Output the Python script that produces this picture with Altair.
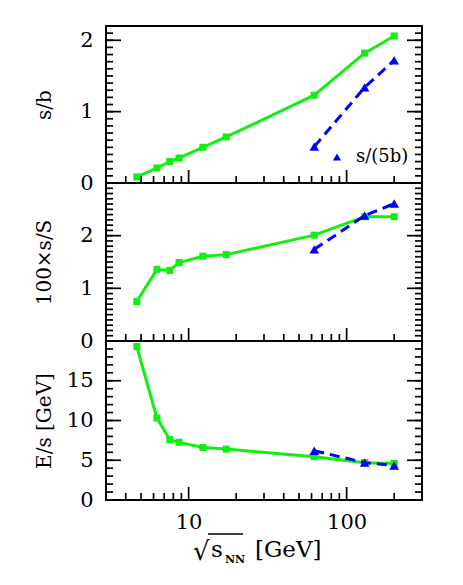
import altair as alt
import pandas as pd

# ---------------- data ----------------
energy = [4.7, 6.3, 7.6, 8.7, 12.3, 17.3, 62.4, 130, 200]
s_over_b = [0.085, 0.21, 0.30, 0.35, 0.50, 0.645, 1.23, 1.82, 2.06]
s_over_S = [0.75, 1.36, 1.34, 1.49, 1.61, 1.64, 2.01, 2.36, 2.36]
E_over_s = [19.3, 10.3, 7.6, 7.25, 6.6, 6.4, 5.45, 4.7, 4.6]

rhic_energy = [62.4, 130, 200]
rhic_s_over_5b = [0.51, 1.34, 1.72]
rhic_s_over_S = [1.74, 2.38, 2.61]
rhic_E_over_s = [6.2, 4.7, 4.35]

x_labels = [10, 100]
x_major = [10, 100]
x_minor = [4, 5, 6, 7, 8, 9, 20, 30, 40, 50, 60, 70, 80, 90, 200, 300]

top_labels = [0, 1, 2]
top_major = [0, 1, 2]
top_minor = [i / 10 for i in range(23)]

mid_labels = [0, 1, 2]
mid_major = [0, 1, 2, 3]
mid_minor = [i / 10 for i in range(31)]

bot_labels = [0, 5, 10, 15]
bot_major = [0, 5, 10, 15, 20]
bot_minor = list(range(21))

legend_label = "s/(5b)"

FONT = "DejaVu Serif"
GREEN = "#10f010"
BLUE = "#0000ff"
W = 316


def panel(yvals, rhic_vals, ymax, y_labels, y_major, y_minor, ytitle, H,
          bottom=False, legend=False):
    xs = alt.Scale(type="log", domain=[3, 300], nice=False)
    ys = alt.Scale(domain=[0, ymax], nice=False, zero=False)
    main = pd.DataFrame({"x": energy, "y": yvals})
    rhic = pd.DataFrame({"x": rhic_energy, "y": rhic_vals,
                         "series": [legend_label] * len(rhic_energy)})

    if bottom:
        xaxis = alt.Axis(values=x_labels, format="d", ticks=False, domain=False,
                         grid=False, labelFont=FONT, labelFontSize=21,
                         labelColor="black", labelPadding=11, labelFlush=False,
                         labelOverlap=False, title=None)
    else:
        xaxis = None
    yaxis = alt.Axis(values=y_labels, ticks=False, domain=False, grid=False,
                     labelFont=FONT, labelFontSize=21, labelColor="black",
                     labelPadding=13, labelOverlap=False, labelFlush=False,
                     title=ytitle, titleFont=FONT, titleFontSize=20,
                     titleFontWeight="normal", titleColor="black",
                     titleX=-52, titleY=H / 2)

    def X(field="x"):
        return alt.X(f"{field}:Q", scale=xs, axis=xaxis, title=None)

    def Y(field="y"):
        return alt.Y(f"{field}:Q", scale=ys, axis=yaxis, title=ytitle)

    line_main = alt.Chart(main).mark_line(color=GREEN, strokeWidth=3).encode(
        x=X(), y=Y())
    pts_main = alt.Chart(main).mark_point(
        shape="square", filled=True, size=50, color=GREEN, opacity=1
    ).encode(x=X(), y=Y())
    line_rhic = alt.Chart(rhic).mark_line(
        color=BLUE, strokeWidth=3, strokeDash=[10, 6]
    ).encode(x=X(), y=Y())
    if legend:
        col = alt.Color(
            "series:N",
            scale=alt.Scale(domain=[legend_label], range=[BLUE]),
            legend=alt.Legend(orient="none", legendX=222, legendY=122,
                              title=None, symbolType="triangle-up",
                              symbolSize=70, symbolStrokeWidth=0,
                              labelFont=FONT, labelFontSize=18,
                              labelColor="black", labelOffset=10, padding=0),
        )
    else:
        col = alt.value(BLUE)
    pts_rhic = alt.Chart(rhic).mark_point(
        shape="triangle-up", filled=True, size=95, opacity=1
    ).encode(x=X(), y=Y(), color=col)

    def yticks(vals, length):
        df = pd.DataFrame({"v": vals})
        left = alt.Chart(df).mark_rule(color="black", strokeWidth=1.7).encode(
            y=Y("v"), x=alt.value(0), x2=alt.value(length))
        right = alt.Chart(df).mark_rule(color="black", strokeWidth=1.7).encode(
            y=Y("v"), x=alt.value(W), x2=alt.value(W - length))
        return [left, right]

    def xticks(vals, length):
        df = pd.DataFrame({"v": vals})
        return [alt.Chart(df).mark_rule(color="black", strokeWidth=1.7).encode(
            x=X("v"), y=alt.value(H), y2=alt.value(H - length))]

    layers = [line_main]
    layers += yticks(y_minor, 7) + yticks(y_major, 15)
    layers += xticks(x_minor, 7) + xticks(x_major, 13)
    layers += [pts_main, line_rhic, pts_rhic]

    if bottom:
        def txt(t, x, y, size, weight="normal"):
            return alt.Chart(pd.DataFrame({"t": [t]})).mark_text(
                font=FONT, fontSize=size, fontWeight=weight, color="black",
                align="left", baseline="alphabetic"
            ).encode(x=alt.value(x), y=alt.value(y), text="t:N")
        layers += [
            txt("\u221a", 87, 219, 26),
            txt("s", 105, 216, 23),
            txt("NN", 119, 222, 11, "bold"),
            txt("[GeV]", 149, 216, 23),
            alt.Chart(pd.DataFrame({"t": [""]})).mark_rule(
                color="black", strokeWidth=1.5
            ).encode(x=alt.value(102), x2=alt.value(137), y=alt.value(193)),
        ]

    return alt.layer(*layers).properties(width=W, height=H)


top = panel(s_over_b, rhic_s_over_5b, 2.2, top_labels, top_major, top_minor,
            "s/b", 157, legend=True)
mid = panel(s_over_S, rhic_s_over_S, 3.0, mid_labels, mid_major, mid_minor,
            "100\u00d7s/S", 158)
bot = panel(E_over_s, rhic_E_over_s, 20.0, bot_labels, bot_major, bot_minor,
            "E/s [GeV]", 159, bottom=True)

chart = (
    alt.vconcat(top, mid, bot, spacing=0, bounds="flush")
    .resolve_legend(color="independent")
    .properties(padding={"left": 25, "top": 16, "right": 5, "bottom": 5},
                background="white")
    .configure_view(stroke="black", strokeWidth=2)
)

chart.save("out.html", embed_options={"renderer": "svg", "actions": False})
